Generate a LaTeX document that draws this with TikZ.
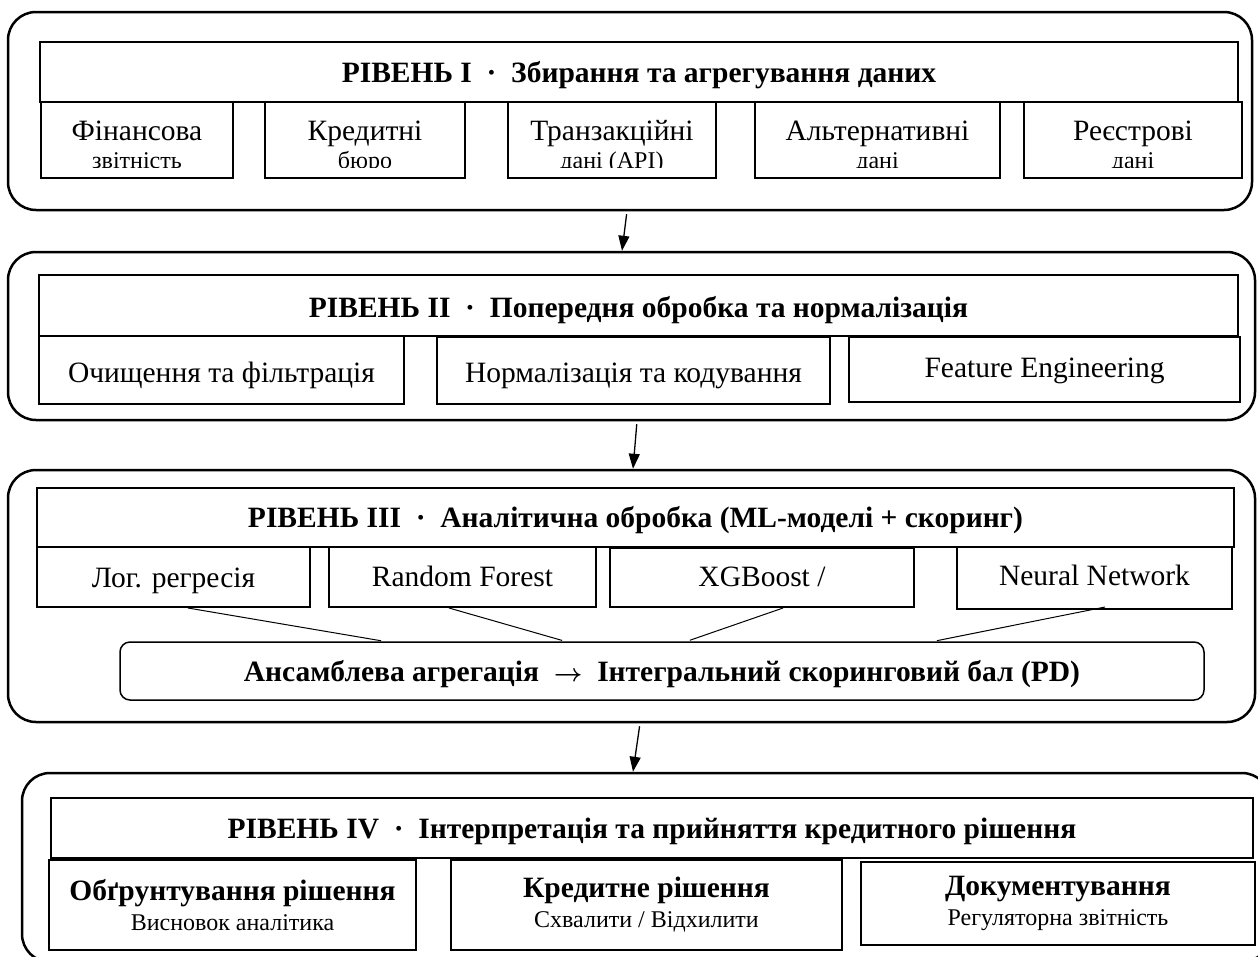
\documentclass[tikz,border=0pt]{standalone}
\usepackage{fontspec}
\setmainfont{Liberation Serif}
\usetikzlibrary{arrows.meta}

\newcommand\fntmain{\fontsize{29.5}{33}\selectfont}
\newcommand\fntsub{\fontsize{24}{27}\selectfont}
\newcommand\fnthead{\fontsize{29.5}{33}\selectfont\bfseries}

\tikzset{
  lvl/.style 2 args={draw, line width=2.5pt, rounded corners=28pt, inner sep=0pt,
    minimum width=#1, minimum height=#2},
  cellbox/.style 2 args={draw, line width=2pt, inner sep=0pt, align=center,
    minimum width=#1, minimum height=#2, font=\fntmain},
  headbox/.style 2 args={cellbox={#1}{#2}, font=\fnthead, bl=20pt},
  bl/.style={text height=#1, text depth=0pt},
  link/.style={line width=1pt, shorten >=3pt},
  down/.style={line width=1.3pt, shorten <=3pt, -{Triangle[width=11pt,length=15pt]}}
}

\begin{document}
\begin{tikzpicture}[x=1pt, y=-1pt]
\useasboundingbox (0,0) rectangle (1258,956);

% level I
\node[lvl={1244}{198}] (lvlI) at (630,111) {};
\node[headbox={1198}{60}] (headI) at (639,72) {РІВЕНЬ І ~·~ Збирання та агрегування даних};
\foreach \n/\x/\w/\a/\b in {fin/137/192/Фінансова/звітність, bur/365/200/Кредитні/бюро,
    trn/612/208/Транзакційні/дані (API), alt/877.5/245/Альтернативні/дані,
    reg/1133/218/Реєстрові/дані}{
  \node[cellbox={\w}{76}] (\n) at (\x,140) {};
  \node[anchor=base, font=\fntmain] (\n-a) at (\x,140) {\a};
  \begin{scope}
    \clip (0,102) rectangle (1258,167.5);
    \node[anchor=base, font=\fntsub] (\n-b) at (\x,168.5) {\b};
  \end{scope}
}

% level II
\node[lvl={1247}{168}] (lvlII) at (631.5,336) {};
\node[headbox={1199}{61}, bl=23pt] (headII) at (638.5,305.5) {РІВЕНЬ II ~·~ Попередня обробка та нормалізація};
\node[cellbox={365}{68}, bl=24pt] (cln) at (221.5,370) {Очищення та фільтрація};
\node[cellbox={393}{67}, bl=24pt] (nrm) at (633.5,370.5) {Нормалізація та кодування};
\node[cellbox={391}{65}, bl=15pt] (fea) at (1044.5,369.5) {Feature Engineering};

% level III
\node[lvl={1247}{252}] (lvlIII) at (631.5,596) {};
\node[headbox={1197}{59}] (headIII) at (635.5,517.5) {РІВЕНЬ III ~·~ Аналітична обробка (ML-моделі + скоринг)};
\node[cellbox={273}{60}, bl=20pt] (lr) at (173.5,577) {Лог. регресія};
\node[cellbox={267}{60}, bl=18pt] (rf) at (462.5,577) {Random Forest};
\node[cellbox={304}{59}, bl=18pt] (xgb) at (762,577.5) {XGBoost /};
\node[cellbox={275}{62}, bl=14pt] (nn) at (1094.5,578) {Neural Network};
\node[headbox={1084}{58}, line width=1.5pt, rounded corners=10pt] (ens) at (662,671)
  {Ансамблева агрегація ~{\boldmath$\rightarrow$}~ Інтегральний скоринговий бал (PD)};
\draw[link] ([xshift=14.5]lr.south) -- ([xshift=-278]ens.north);
\draw[link] ([xshift=-13.5]rf.south) -- ([xshift=-97]ens.north);
\draw[link] ([xshift=21]xgb.south) -- ([xshift=25]ens.north);
\draw[link] ([xshift=10.5,yshift=3]nn.south) -- ([xshift=272]ens.north);

% level IV
\node[lvl={1248}{189}] (lvlIV) at (646,867.5) {};
\node[headbox={1202}{60}] (headIV) at (652,828) {РІВЕНЬ IV ~·~ Інтерпретація та прийняття кредитного рішення};
\node[cellbox={367}{90}] (jus) at (232.5,905) {{\fnthead Обґрунтування рішення}\\[-3pt]{\fntsub Висновок аналітика}};
\node[cellbox={391}{90}] (dec) at (646.5,905) {{\fnthead Кредитне рішення}\\[-3pt]{\fntsub Схвалити / Відхилити}};
\node[cellbox={394}{83}] (doc) at (1058,903.5) {{\fnthead Документування}\\[-3pt]{\fntsub Регуляторна звітність}};

% arrows between levels
\draw[down] ([xshift=-3]lvlI.south) -- ([xshift=-9.5]lvlII.north);
\draw[down] ([xshift=5.5]lvlII.south) -- ([xshift=1.5]lvlIII.north);
\draw[down] ([xshift=8.5]lvlIII.south) -- ([xshift=-13]lvlIV.north);
\end{tikzpicture}
\end{document}
